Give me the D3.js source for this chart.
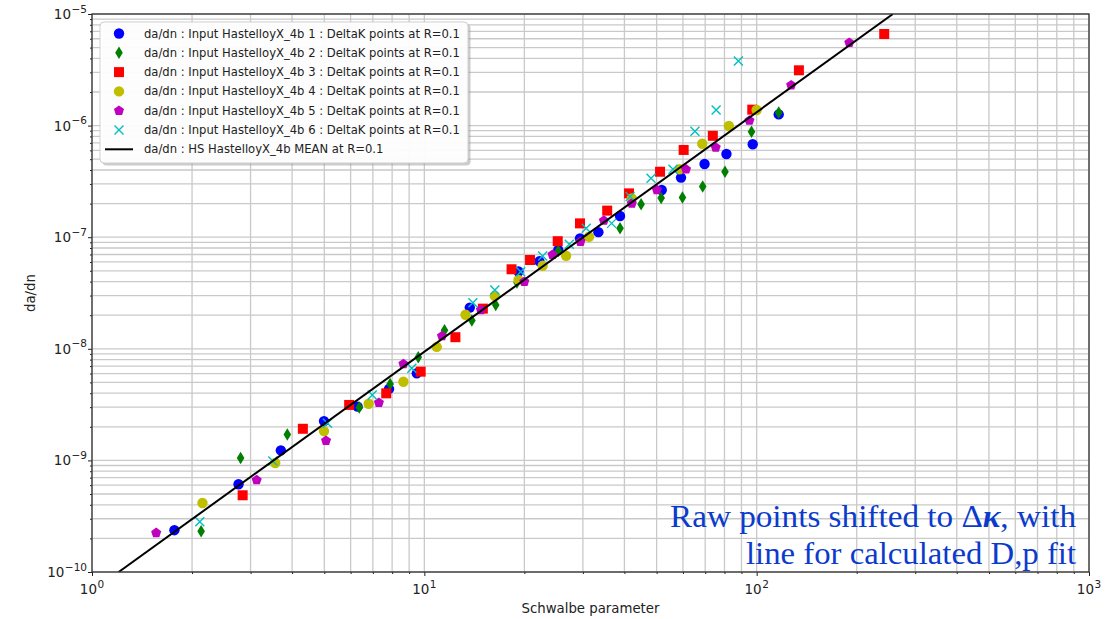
<!DOCTYPE html>
<html><head><meta charset="utf-8">
<script src="https://cdn.jsdelivr.net/npm/d3@7"></script>
<style>body{margin:0;background:#fff} svg{display:block}</style>
</head><body>
<svg id="chart" width="1115" height="619"></svg>
<script>
// ---------- data ----------
const legendLabels = [
  "da/dn : Input HastelloyX_4b 1 : DeltaK points at R=0.1",
  "da/dn : Input HastelloyX_4b 2 : DeltaK points at R=0.1",
  "da/dn : Input HastelloyX_4b 3 : DeltaK points at R=0.1",
  "da/dn : Input HastelloyX_4b 4 : DeltaK points at R=0.1",
  "da/dn : Input HastelloyX_4b 5 : DeltaK points at R=0.1",
  "da/dn : Input HastelloyX_4b 6 : DeltaK points at R=0.1",
  "da/dn : HS HastelloyX_4b MEAN at R=0.1"
];
const s1X = [1.77, 2.76, 3.70, 4.99, 6.30, 7.83, 9.49, 13.7, 19.2, 22.2, 25.3, 29.4, 33.4, 38.8, 51.8, 59.2, 69.7, 81.1, 97.3, 116.5];
const s1Y = [2.37e-10, 6.11e-10, 1.23e-9, 2.25e-9, 3.03e-9, 4.37e-9, 6.03e-9, 2.34e-8, 4.93e-8, 6.08e-8, 7.68e-8, 9.77e-8, 1.11e-7, 1.55e-7, 2.65e-7, 3.42e-7, 4.53e-7, 5.57e-7, 6.80e-7, 1.26e-6];
const s2X = [2.13, 2.80, 3.87, 6.37, 7.89, 9.59, 11.5, 13.9, 16.4, 19.0, 25.3, 38.8, 44.9, 51.6, 59.8, 68.8, 80.3, 96.5, 116.5];
const s2Y = [2.32e-10, 1.05e-9, 1.71e-9, 2.98e-9, 4.84e-9, 8.39e-9, 1.47e-8, 1.79e-8, 2.47e-8, 3.93e-8, 7.52e-8, 1.20e-7, 1.97e-7, 2.25e-7, 2.27e-7, 2.84e-7, 3.86e-7, 8.82e-7, 1.31e-6];
const s3X = [2.84, 4.31, 5.94, 7.68, 9.75, 12.4, 15.0, 18.3, 20.8, 25.2, 29.4, 35.5, 41.3, 51.2, 60.3, 73.8, 97.0, 134, 242];
const s3Y = [4.87e-10, 1.92e-9, 3.14e-9, 3.99e-9, 6.24e-9, 1.27e-8, 2.29e-8, 5.16e-8, 6.25e-8, 9.21e-8, 1.33e-7, 1.73e-7, 2.47e-7, 3.86e-7, 6.05e-7, 8.10e-7, 1.39e-6, 3.13e-6, 6.62e-6];
const s4X = [2.15, 3.56, 4.99, 6.80, 8.65, 10.9, 13.3, 16.3, 19.2, 22.7, 26.7, 31.3, 42.1, 58.6, 68.6, 82.5, 100];
const s4Y = [4.15e-10, 9.48e-10, 1.83e-9, 3.22e-9, 5.07e-9, 1.04e-8, 2.02e-8, 2.97e-8, 4.14e-8, 5.54e-8, 6.81e-8, 1.01e-7, 2.23e-7, 4.06e-7, 6.88e-7, 9.92e-7, 1.38e-6];
const s5X = [1.56, 3.13, 5.06, 7.30, 8.65, 11.3, 14.8, 20.0, 24.3, 29.5, 34.7, 42.1, 50.1, 61.3, 75.3, 95.1, 127, 190];
const s5Y = [2.24e-10, 6.67e-10, 1.50e-9, 3.29e-9, 7.31e-9, 1.30e-8, 2.23e-8, 3.99e-8, 6.97e-8, 9.11e-8, 1.41e-7, 2.01e-7, 2.65e-7, 4.06e-7, 6.37e-7, 1.11e-6, 2.30e-6, 5.53e-6];
const s6X = [2.11, 3.50, 5.11, 6.97, 9.17, 14.0, 16.3, 19.5, 22.7, 27.3, 30.7, 36.6, 41.6, 48.1, 56.0, 65.2, 75.5, 88.1];
const s6Y = [2.82e-10, 9.88e-10, 2.15e-9, 3.86e-9, 6.69e-9, 2.59e-8, 3.37e-8, 4.91e-8, 6.78e-8, 8.64e-8, 1.20e-7, 1.33e-7, 2.31e-7, 3.37e-7, 4.06e-7, 8.89e-7, 1.38e-6, 3.79e-6];
const meanX = [1.203, 257];
const meanY = [1e-10, 1e-5];
const xTickExps = [0, 1, 2, 3];
const yTickExps = [-10, -9, -8, -7, -6, -5];
const xLabel = "Schwalbe parameter";
const yLabel = "da/dn";
const noteLine1 = ["Raw points shifted to Δ", "κ", ", with"];
const noteLine2 = "line for calculated D,p fit";

// ---------- layout ----------
const L = 92, R = 1089, T = 14, B = 572;
const svg = d3.select("#chart");
const x = d3.scaleLog().domain([1, 1000]).range([L, R]);
const y = d3.scaleLog().domain([1e-10, 1e-5]).range([B, T]);

const FONT = "'DejaVu Sans', sans-serif";
const gridColor = "#c9c9c9";

// grid
const xGrid = x.ticks();
const yGrid = y.ticks();
const g = svg.append("g");
g.selectAll("line.xg").data(xGrid).join("line")
  .attr("x1", d => x(d)).attr("x2", d => x(d)).attr("y1", T).attr("y2", B)
  .attr("stroke", gridColor).attr("stroke-width", 1.3);
g.selectAll("line.yg").data(yGrid).join("line")
  .attr("y1", d => y(d)).attr("y2", d => y(d)).attr("x1", L).attr("x2", R)
  .attr("stroke", gridColor).attr("stroke-width", 1.3);

// axes ticks
const xMajor = xTickExps.map(e => Math.pow(10, e));
const yMajor = yTickExps.map(e => Math.pow(10, e));
const xMinor = xGrid.filter(v => !xMajor.some(m => Math.abs(m - v) / m < 1e-6));
const yMinor = yGrid.filter(v => !yMajor.some(m => Math.abs(m - v) / m < 1e-6));

function styleAxis(sel) {
  sel.select(".domain").remove();
  sel.selectAll(".tick line").attr("stroke", "#222").attr("stroke-width", 1);
  sel.selectAll(".tick text").remove();
}
svg.append("g").attr("transform", `translate(0,${B})`)
  .call(d3.axisBottom(x).tickValues(xMajor).tickSize(4).tickFormat(() => "")).call(styleAxis);
svg.append("g").attr("transform", `translate(0,${B})`)
  .call(d3.axisBottom(x).tickValues(xMinor).tickSize(2).tickFormat(() => "")).call(styleAxis);
svg.append("g").attr("transform", `translate(${L},0)`)
  .call(d3.axisLeft(y).tickValues(yMajor).tickSize(4).tickFormat(() => "")).call(styleAxis);
svg.append("g").attr("transform", `translate(${L},0)`)
  .call(d3.axisLeft(y).tickValues(yMinor).tickSize(2).tickFormat(() => "")).call(styleAxis);

// tick labels with superscripts
const TF = 13.5, SF = 10.5;
xTickExps.forEach(e => {
  const t = svg.append("text").attr("x", x(Math.pow(10, e))).attr("y", 594)
    .attr("text-anchor", "middle").attr("font-family", FONT).attr("font-size", TF).attr("fill", "#222");
  t.append("tspan").text("10");
  t.append("tspan").attr("dy", -6.5).attr("dx", 0.5).attr("font-size", SF).text(String(e).replace("-", "\u2212"));
});
yTickExps.forEach(e => {
  const t = svg.append("text").attr("x", 87).attr("y", y(Math.pow(10, e)) + 5)
    .attr("text-anchor", "end").attr("font-family", FONT).attr("font-size", TF).attr("fill", "#222");
  t.append("tspan").text("10");
  t.append("tspan").attr("dy", -6.5).attr("dx", 0.5).attr("font-size", SF).text(String(e).replace("-", "\u2212"));
});

// axis labels
svg.append("text").attr("x", (L + R) / 2).attr("y", 613).attr("text-anchor", "middle")
  .attr("font-family", FONT).attr("font-size", 13.3).attr("fill", "#222").text(xLabel);
svg.append("text").attr("transform", `translate(35,${(T + B) / 2}) rotate(-90)`).attr("text-anchor", "middle")
  .attr("font-family", FONT).attr("font-size", 13.3).attr("fill", "#222").text(yLabel);

// markers
const circlePath = r => d3.symbol(d3.symbolCircle, Math.PI * r * r)();
const squarePath = s => `M${-s/2},${-s/2}H${s/2}V${s/2}H${-s/2}Z`;
const diamondPath = (w, h) => `M0,${-h/2}L${w/2},0L0,${h/2}L${-w/2},0Z`;
const pentPath = r => {
  const pts = d3.range(5).map(i => { const a = -Math.PI / 2 + i * 2 * Math.PI / 5; return [r * Math.cos(a), r * Math.sin(a)]; });
  return "M" + pts.map(p => p.join(",")).join("L") + "Z";
};
const xPath = s => `M${-s/2},${-s/2}L${s/2},${s/2}M${-s/2},${s/2}L${s/2},${-s/2}`;

const series = [
  { xs: s1X, ys: s1Y, color: "#0000ff", path: circlePath(5.2), stroke: false },
  { xs: s2X, ys: s2Y, color: "#008000", path: diamondPath(7.6, 12.5), stroke: false },
  { xs: s3X, ys: s3Y, color: "#ff0000", path: squarePath(10), stroke: false },
  { xs: s4X, ys: s4Y, color: "#bfbf00", path: circlePath(5.2), stroke: false },
  { xs: s5X, ys: s5Y, color: "#bf00bf", path: pentPath(5.3), stroke: false },
  { xs: s6X, ys: s6Y, color: "#00bfbf", path: xPath(9), stroke: true }
];

const clipId = "plotclip";
svg.append("clipPath").attr("id", clipId).append("rect")
  .attr("x", L).attr("y", T).attr("width", R - L).attr("height", B - T);
const plot = svg.append("g").attr("clip-path", `url(#${clipId})`);

series.forEach(s => {
  const pts = s.xs.map((v, i) => [v, s.ys[i]]);
  const sel = plot.append("g").selectAll("path").data(pts).join("path")
    .attr("transform", d => `translate(${x(d[0])},${y(d[1])})`)
    .attr("d", s.path);
  if (s.stroke) sel.attr("fill", "none").attr("stroke", s.color).attr("stroke-width", 1.4);
  else sel.attr("fill", s.color).attr("stroke", "none");
});

// mean line
plot.append("path")
  .datum(meanX.map((v, i) => [v, meanY[i]]))
  .attr("d", d3.line().x(d => x(d[0])).y(d => y(d[1])))
  .attr("fill", "none").attr("stroke", "#000").attr("stroke-width", 2);

// frame
svg.append("rect").attr("x", L).attr("y", T).attr("width", R - L).attr("height", B - T)
  .attr("fill", "none").attr("stroke", "#333").attr("stroke-width", 1.3);

// legend
const lgX = 100, lgY = 22, lgW = 368, lgH = 141;
svg.append("rect").attr("x", lgX + 2.5).attr("y", lgY + 2.5).attr("width", lgW).attr("height", lgH)
  .attr("rx", 4).attr("fill", "#999").attr("opacity", 0.5);
svg.append("rect").attr("x", lgX).attr("y", lgY).attr("width", lgW).attr("height", lgH)
  .attr("rx", 4).attr("fill", "#fff").attr("fill-opacity", 0.95).attr("stroke", "#cfcfcf").attr("stroke-width", 1);
legendLabels.forEach((lab, i) => {
  const cy = 33.5 + i * 19.3;
  if (i < series.length) {
    const s = series[i];
    const m = svg.append("path").attr("transform", `translate(119,${cy})`).attr("d", s.path);
    if (s.stroke) m.attr("fill", "none").attr("stroke", s.color).attr("stroke-width", 1.4);
    else m.attr("fill", s.color);
  } else {
    svg.append("line").attr("x1", 105).attr("x2", 133).attr("y1", cy).attr("y2", cy)
      .attr("stroke", "#000").attr("stroke-width", 2);
  }
  svg.append("text").attr("x", 144).attr("y", cy + 4).attr("font-family", FONT)
    .attr("font-size", 11.6).attr("fill", "#222").text(lab);
});

// annotation
const SERIF = "'Liberation Serif', 'DejaVu Serif', serif";
const noteColor = "#0b3bcc";
const n1 = svg.append("text").attr("x", 1076).attr("y", 527).attr("text-anchor", "end")
  .attr("font-family", SERIF).attr("font-size", 31.5).attr("fill", noteColor)
  .attr("textLength", 406).attr("lengthAdjust", "spacingAndGlyphs");
n1.append("tspan").text(noteLine1[0]);
n1.append("tspan").attr("font-weight", "bold").attr("font-style", "italic").text(noteLine1[1]);
n1.append("tspan").text(noteLine1[2]);
svg.append("text").attr("x", 1076).attr("y", 564).attr("text-anchor", "end")
  .attr("font-family", SERIF).attr("font-size", 31.5).attr("fill", noteColor)
  .attr("textLength", 330).attr("lengthAdjust", "spacingAndGlyphs").text(noteLine2);
</script>
</body></html>
